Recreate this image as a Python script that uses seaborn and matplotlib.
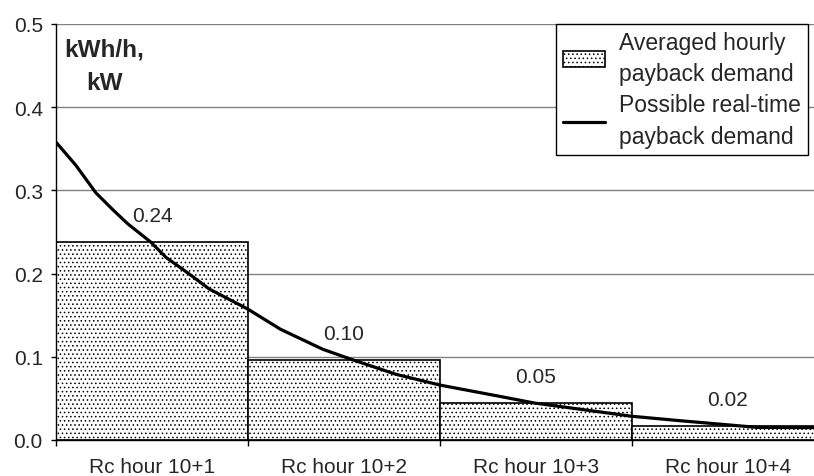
import numpy as np
import pandas as pd
import seaborn as sns
import matplotlib.pyplot as plt
from matplotlib.ticker import FixedLocator, FormatStrFormatter

# averaged hourly payback demand (bars)
hours = ["Rc hour 10+1", "Rc hour 10+2", "Rc hour 10+3", "Rc hour 10+4"]
avgDemand = [0.238, 0.096, 0.0445, 0.017]
barLabels = ["0.24", "0.10", "0.05", "0.02"]

# possible real-time payback demand (curve), x in category units
rtX = [-0.5, -0.396, -0.292, -0.205, -0.127, -0.005, 0.073, 0.194, 0.298,
       0.498, 0.67, 0.89, 1.05, 1.27, 1.5, 1.81, 1.99, 2.5, 2.75, 3.15, 3.5]
rtY = [0.358, 0.330, 0.297, 0.277, 0.260, 0.2376, 0.2195, 0.1995, 0.1815,
       0.1575, 0.133, 0.109, 0.096, 0.079, 0.066, 0.0525, 0.0445, 0.0285,
       0.0232, 0.0152, 0.0148]

sns.set_style("white")
plt.rcParams['font.family'] = ['Liberation Sans', 'DejaVu Sans']
plt.rcParams['hatch.color'] = '#333333'
plt.rcParams['hatch.linewidth'] = 0.6

bars = pd.DataFrame({'hour': hours, 'demand': avgDemand})
rt = pd.DataFrame({'x': rtX, 'y': rtY})

FS = 15

fig = plt.figure(figsize=(8.14, 4.77), dpi=100)
ax = fig.add_axes([56/814, 36/477, 768/814, 416/477])

sns.barplot(data=bars, x='hour', y='demand', width=1.0, color='white',
            edgecolor='black', linewidth=1.2, ax=ax, zorder=2,
            label='Averaged hourly\npayback demand')
for p in ax.patches:
  p.set_hatch('....')

sns.lineplot(data=rt, x='x', y='y', color='black', linewidth=2.3, ax=ax,
             zorder=3, label='Possible real-time\npayback demand')

for i, v in enumerate(avgDemand):
  ax.annotate(barLabels[i], (i, v), xytext=(0, 19), textcoords='offset points',
              ha='center', va='center', fontsize=FS, zorder=4)

ax.set_xlim(-0.5, 3.5)
ax.set_ylim(0, 0.5)
ax.set_yticks(np.arange(0, 0.51, 0.1))
ax.yaxis.set_major_formatter(FormatStrFormatter('%.1f'))
ax.grid(axis='y', color='#808080', linewidth=1.0, zorder=0)
ax.set_axisbelow(True)

# ticks at category boundaries, labels at centres
ax.xaxis.set_major_locator(FixedLocator([-0.5, 0.5, 1.5, 2.5, 3.5]))
ax.xaxis.set_minor_locator(FixedLocator([0, 1, 2, 3]))
ax.set_xticklabels([], minor=False)
ax.set_xticklabels(hours, minor=True)
ax.tick_params(axis='x', which='major', direction='out', length=4.5,
               width=1, color='black', bottom=True)
ax.tick_params(axis='x', which='minor', length=0, pad=12.5, labelsize=FS,
               bottom=True)
ax.tick_params(axis='y', direction='out', length=3.5, width=1,
               color='black', left=True, pad=6, labelsize=FS)

for s in ['top', 'right']:
  ax.spines[s].set_visible(False)
ax.spines['left'].set_color('black')
ax.spines['bottom'].set_color('black')
ax.spines['left'].set_linewidth(1)
ax.spines['bottom'].set_linewidth(1)
ax.set_xlabel('')
ax.set_ylabel('')

ax.text(0.0625, 0.9, 'kWh/h,\nkW', transform=ax.transAxes, ha='center',
        va='center', multialignment='center', fontsize=17.5,
        fontweight='bold', linespacing=1.55)

handles, labels = ax.get_legend_handles_labels()
order = [labels.index('Averaged hourly\npayback demand'),
         labels.index('Possible real-time\npayback demand')]
leg = ax.legend([handles[k] for k in order], [labels[k] for k in order],
                loc='upper left', bbox_to_anchor=(556/814, 1 - 25/477),
                bbox_transform=fig.transFigure, fontsize=16.5, frameon=True,
                fancybox=False, shadow=False, framealpha=1,
                edgecolor='black', borderaxespad=0, handlelength=1.85,
                handletextpad=0.6, labelspacing=0.35, borderpad=0.3)
leg.get_frame().set_linewidth(1)
for t in leg.get_texts():
  t.set_linespacing(1.47)

fig.savefig('out.png', dpi=100)
